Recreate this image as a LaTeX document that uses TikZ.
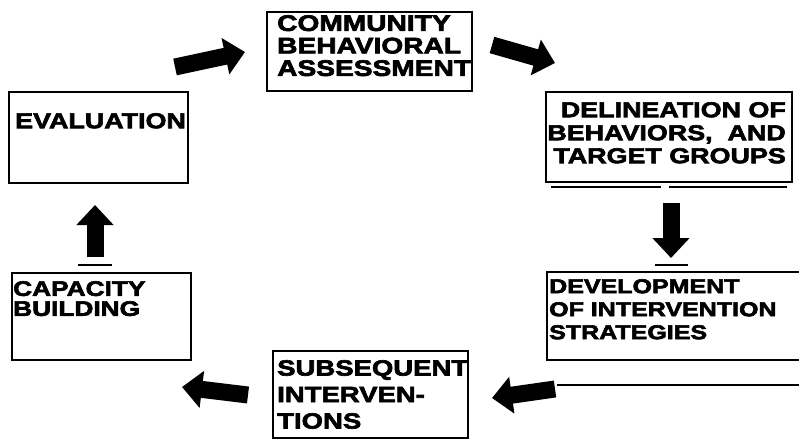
\documentclass[tikz,border=0pt]{standalone}
\usepackage{fontspec}
\newfontfamily\boxfont{Liberation Sans}[FakeStretch=1.25, BoldFeatures={FakeBold=3}]
\usetikzlibrary{arrows.meta}
\begin{document}
\begin{tikzpicture}[x=1pt,y=-1pt,
  box/.style={draw, line width=1.7pt, rectangle, inner sep=0pt},
  boxtext/.style={anchor=north west, inner sep=0pt, align=left},
  fat/.style={line width=17pt, line cap=butt, -{Triangle[length=20pt,width=36pt]}},
  underrule/.style={line width=2pt}]
\useasboundingbox (0,0) rectangle (799,441);

% stage boxes
\node[box, minimum width=179pt, minimum height=91pt] (eval)  at (98.5,137.5) {};
\node[box, minimum width=205pt, minimum height=79pt] (comm)  at (369.5,51.5) {};
\node[box, minimum width=246pt, minimum height=90pt] (delin) at (669,137) {};
\node[box, minimum width=265pt, minimum height=88pt] (devel) at (679.5,316) {};
\node[box, minimum width=195pt, minimum height=87pt] (subs)  at (370.5,394.5) {};
\node[box, minimum width=179pt, minimum height=87pt] (cap)   at (101.5,316.5) {};

% stage texts
\node[boxtext, font={\boxfont\bfseries\fontsize{21.5}{20}\selectfont}] (evaltext) at (15,113) {EVALUATION};
\node[boxtext, font={\boxfont\bfseries\fontsize{22.5}{22.5}\selectfont}] (commtext) at (277,15)
  {COMMUNITY\\BEHAVIORAL\\ASSESSMENT};
\node[boxtext, anchor=north east, align=right, font={\boxfont\bfseries\fontsize{21.5}{23}\selectfont}] (delintext) at (786,102)
  {DELINEATION OF\\BEHAVIORS,\ \ AND\\TARGET GROUPS};
\node[boxtext, font={\boxfont\bfseries\fontsize{20}{23}\selectfont}] (develtext) at (549,279)
  {DEVELOPMENT\\OF INTERVENTION\\STRATEGIES};
\node[boxtext, font={\boxfont\bfseries\fontsize{22}{26.5}\selectfont}] (substext) at (277,360)
  {SUBSEQUENT\\INTERVEN-\\TIONS};
\node[boxtext, font={\boxfont\bfseries\fontsize{21}{20}\selectfont}] (captext) at (13,281)
  {CAPACITY\\BUILDING};

% short rules under the boxes and arrows
\draw[underrule] (551,187) -- (661,187);
\draw[underrule] (669,187) -- (787,187);
\draw[underrule] (655,265) -- (688,265);
\draw[underrule] (78,265) -- (112,265);
\draw[underrule] (557,385) -- (812,385);

% arrow end points
\coordinate (a1s) at (175,67);
\coordinate (a1e) at (245,52);
\coordinate (a2s) at (492,45);
\coordinate (a2e) at (555,63);
\coordinate (a3s) at (671,203);
\coordinate (a3e) at (671,258);
\coordinate (a4s) at (555,389);
\coordinate (a4e) at (492,398);
\coordinate (a5s) at (248,395);
\coordinate (a5e) at (182,387);
\coordinate (a6s) at (95,257);
\coordinate (a6e) at (95,205);

% block arrows around the cycle
\draw[fat] (a1s) -- (a1e);
\draw[fat] (a2s) -- (a2e);
\draw[fat] (a3s) -- (a3e);
\draw[fat] (a4s) -- (a4e);
\draw[fat] (a5s) -- (a5e);
\draw[fat] (a6s) -- (a6e);
\end{tikzpicture}
\end{document}
